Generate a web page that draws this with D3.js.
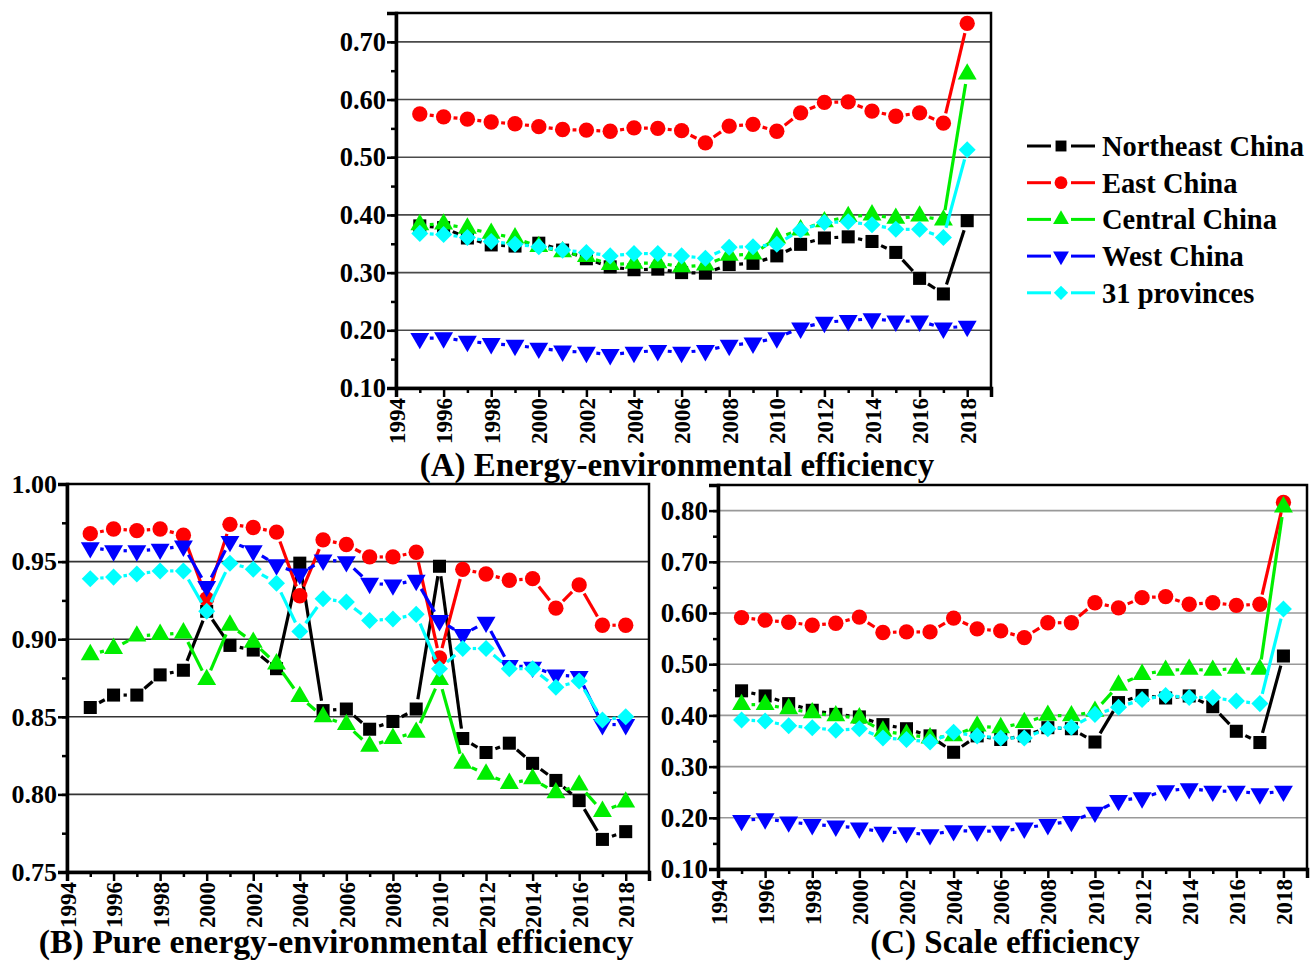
<!DOCTYPE html>
<html>
<head>
<meta charset="utf-8">
<script src="https://cdn.jsdelivr.net/npm/d3@7"></script>
<style>
  body { margin: 0; background: #fff; }
  svg text { font-family: "Liberation Serif", "Times New Roman", serif; font-weight: bold; fill: #000; }
</style>
</head>
<body>
<svg id="chart" width="1316" height="961"></svg>
<script>
const years = d3.range(1995, 2019);
const regions = ["Northeast China", "East China", "Central China", "West China", "31 provinces"];
const colors = ["#000000", "#ff0000", "#00ee00", "#0000ff", "#00ffff"];

// (A) energy-environmental efficiency
const aNortheast = [0.381, 0.378, 0.360, 0.348, 0.346, 0.351, 0.339, 0.324, 0.310, 0.305, 0.306, 0.300, 0.299, 0.314, 0.316, 0.329, 0.349, 0.360, 0.362, 0.354, 0.335, 0.290, 0.263, 0.390];
const aEast = [0.575, 0.570, 0.566, 0.561, 0.558, 0.553, 0.548, 0.547, 0.545, 0.551, 0.550, 0.546, 0.525, 0.554, 0.557, 0.545, 0.577, 0.595, 0.596, 0.580, 0.571, 0.577, 0.559, 0.732];
const aCentral = [0.383, 0.384, 0.377, 0.368, 0.360, 0.345, 0.336, 0.328, 0.314, 0.316, 0.317, 0.310, 0.313, 0.330, 0.332, 0.360, 0.374, 0.388, 0.397, 0.400, 0.394, 0.398, 0.391, 0.644];
const aWest = [0.186, 0.187, 0.181, 0.177, 0.174, 0.169, 0.164, 0.162, 0.158, 0.162, 0.165, 0.162, 0.165, 0.174, 0.178, 0.187, 0.204, 0.214, 0.217, 0.220, 0.216, 0.216, 0.204, 0.207];
const aAll = [0.368, 0.366, 0.361, 0.354, 0.349, 0.345, 0.339, 0.335, 0.329, 0.333, 0.333, 0.329, 0.325, 0.344, 0.345, 0.349, 0.374, 0.387, 0.388, 0.383, 0.375, 0.375, 0.361, 0.513];

// (B) pure energy-environmental efficiency
const bNortheast = [0.856, 0.864, 0.864, 0.877, 0.880, 0.918, 0.896, 0.893, 0.881, 0.949, 0.854, 0.855, 0.842, 0.847, 0.855, 0.947, 0.836, 0.827, 0.833, 0.820, 0.809, 0.796, 0.771, 0.776];
const bEast = [0.968, 0.971, 0.970, 0.971, 0.967, 0.926, 0.974, 0.972, 0.969, 0.928, 0.964, 0.961, 0.953, 0.953, 0.956, 0.888, 0.945, 0.942, 0.938, 0.939, 0.920, 0.935, 0.909, 0.909];
const bCentral = [0.890, 0.894, 0.902, 0.903, 0.904, 0.874, 0.909, 0.898, 0.884, 0.863, 0.850, 0.845, 0.831, 0.836, 0.840, 0.874, 0.820, 0.813, 0.807, 0.810, 0.801, 0.806, 0.789, 0.795];
const bWest = [0.959, 0.957, 0.957, 0.958, 0.960, 0.934, 0.963, 0.957, 0.948, 0.942, 0.951, 0.950, 0.936, 0.935, 0.938, 0.912, 0.903, 0.911, 0.883, 0.882, 0.877, 0.876, 0.845, 0.845];
const bAll = [0.939, 0.940, 0.942, 0.944, 0.944, 0.918, 0.949, 0.945, 0.936, 0.905, 0.926, 0.924, 0.912, 0.913, 0.916, 0.881, 0.894, 0.894, 0.881, 0.881, 0.869, 0.873, 0.848, 0.850];

// (C) scale efficiency
const cNortheast = [0.448, 0.438, 0.423, 0.410, 0.402, 0.397, 0.382, 0.374, 0.360, 0.328, 0.360, 0.353, 0.360, 0.376, 0.374, 0.348, 0.425, 0.439, 0.434, 0.438, 0.417, 0.369, 0.347, 0.516];
const cEast = [0.591, 0.586, 0.582, 0.576, 0.580, 0.592, 0.562, 0.563, 0.563, 0.590, 0.569, 0.565, 0.552, 0.581, 0.581, 0.620, 0.610, 0.630, 0.632, 0.617, 0.620, 0.615, 0.617, 0.816];
const cCentral = [0.421, 0.421, 0.413, 0.405, 0.399, 0.395, 0.369, 0.363, 0.356, 0.360, 0.379, 0.376, 0.386, 0.400, 0.399, 0.408, 0.459, 0.480, 0.488, 0.490, 0.488, 0.492, 0.490, 0.807];
const cWest = [0.195, 0.198, 0.192, 0.187, 0.184, 0.180, 0.172, 0.171, 0.167, 0.175, 0.174, 0.174, 0.180, 0.187, 0.193, 0.211, 0.234, 0.239, 0.253, 0.257, 0.252, 0.252, 0.247, 0.252];
const cAll = [0.391, 0.389, 0.380, 0.376, 0.371, 0.374, 0.356, 0.353, 0.348, 0.367, 0.360, 0.356, 0.356, 0.374, 0.377, 0.402, 0.416, 0.431, 0.439, 0.435, 0.435, 0.428, 0.423, 0.608];

const yTicksA = [0.10, 0.20, 0.30, 0.40, 0.50, 0.60, 0.70];
const yTicksB = [0.75, 0.80, 0.85, 0.90, 0.95, 1.00];
const yTicksC = [0.10, 0.20, 0.30, 0.40, 0.50, 0.60, 0.70, 0.80];
const xTicks = d3.range(1994, 2020);

const titles = ["(A) Energy-environmental efficiency", "(B) Pure energy-environmental efficiency", "(C) Scale efficiency"];

const svg = d3.select("#chart");

const symbols = [
  d3.symbol().type(d3.symbolSquare).size(170),
  d3.symbol().type(d3.symbolCircle).size(185),
  d3.symbol().type(d3.symbolTriangle).size(155),
  d3.symbol().type(d3.symbolTriangle).size(155),
  d3.symbol().type(d3.symbolSquare).size(145),
];
const rotations = [0, 0, 0, 180, 45];

const panels = [
  { series: [aNortheast, aEast, aCentral, aWest, aAll], left: 396, right: 991, top: 13, bottom: 388,
    yDomain: [0.10, 0.75], yTicks: yTicksA, minorStep: 0.05, grid: "#4a4a4a", title: titles[0], tx: 677, ty: 476, tFont: 33, yFont: 26.5, xFont: 23 },
  { series: [bNortheast, bEast, bCentral, bWest, bAll], left: 67, right: 649, top: 484, bottom: 872,
    yDomain: [0.75, 1.00], yTicks: yTicksB, minorStep: 0.025, grid: "#333", title: titles[1], tx: 336, ty: 953, tFont: 33.8, yFont: 26, xFont: 23 },
  { series: [cNortheast, cEast, cCentral, cWest, cAll], left: 718, right: 1307, top: 485, bottom: 869,
    yDomain: [0.10, 0.85], yTicks: yTicksC, minorStep: 0.05, grid: "#999", title: titles[2], tx: 1005, ty: 953, tFont: 33, yFont: 27, xFont: 23 },
];

panels.forEach((p) => {
  const x = d3.scaleLinear().domain([1994, 2019]).range([p.left, p.right]);
  const y = d3.scaleLinear().domain(p.yDomain).range([p.bottom, p.top]);
  const g = svg.append("g");

  // gridlines
  g.selectAll(".grid")
    .data(p.yTicks.filter((d) => d > p.yDomain[0] + 1e-9 && d < p.yDomain[1] - 1e-9))
    .enter()
    .append("line")
    .attr("x1", p.left).attr("x2", p.right)
    .attr("y1", (d) => y(d)).attr("y2", (d) => y(d))
    .attr("stroke", p.grid).attr("stroke-width", 1.6);

  // frame
  g.append("rect")
    .attr("x", p.left).attr("y", p.top)
    .attr("width", p.right - p.left).attr("height", p.bottom - p.top)
    .attr("fill", "none").attr("stroke", "#000").attr("stroke-width", 2.5);

  // series, drawn as trimmed segments so each symbol has a small gap
  p.series.forEach((vals, si) => {
    const pts = vals.map((v, i) => [x(years[i]), y(v)]);
    const gap = 10;
    for (let i = 0; i < pts.length - 1; i++) {
      const [x1, y1] = pts[i];
      const [x2, y2] = pts[i + 1];
      const len = Math.hypot(x2 - x1, y2 - y1);
      if (len <= gap * 2) continue;
      const ux = (x2 - x1) / len, uy = (y2 - y1) / len;
      g.append("line")
        .attr("x1", x1 + ux * gap).attr("y1", y1 + uy * gap)
        .attr("x2", x2 - ux * gap).attr("y2", y2 - uy * gap)
        .attr("stroke", colors[si]).attr("stroke-width", 3.2);
    }
    g.selectAll(".m" + si)
      .data(pts)
      .enter()
      .append("path")
      .attr("d", symbols[si])
      .attr("transform", (d) => `translate(${d[0]},${d[1]}) rotate(${rotations[si]})`)
      .attr("fill", colors[si]);
  });

  // y axis: minor then major
  const minor = d3.range(p.yDomain[0], p.yDomain[1] + 1e-9, p.minorStep)
    .map((d) => +d.toFixed(3));
  g.append("g")
    .attr("transform", `translate(${p.left},0)`)
    .call(d3.axisLeft(y).tickValues(minor).tickSize(5).tickFormat(""))
    .call((s) => s.select(".domain").remove())
    .selectAll("line").attr("stroke-width", 2.5);
  const yAxis = g.append("g")
    .attr("transform", `translate(${p.left},0)`)
    .call(d3.axisLeft(y).tickValues(p.yTicks).tickSize(9).tickPadding(1).tickFormat(d3.format(".2f")));
  yAxis.select(".domain").attr("stroke-width", 3.5);
  yAxis.selectAll("line").attr("stroke-width", 2.5);
  yAxis.selectAll("text").style("font-size", p.yFont + "px");

  // x axis
  const xAxis = g.append("g")
    .attr("transform", `translate(0,${p.bottom})`)
    .call(d3.axisBottom(x).tickValues(xTicks).tickSize(9).tickFormat((d) => (d % 2 === 0 ? d : "")));
  xAxis.select(".domain").attr("stroke-width", 3.5);
  xAxis.selectAll(".tick line")
    .attr("y2", (d) => (d % 2 === 0 ? 9 : 5))
    .attr("stroke-width", 2.5);
  xAxis.selectAll("text")
    .style("font-size", p.xFont + "px")
    .attr("text-anchor", "end")
    .attr("transform", "rotate(-90)")
    .attr("x", -10).attr("y", 0).attr("dy", "0.35em");

  // panel caption
  svg.append("text")
    .attr("x", p.tx).attr("y", p.ty)
    .attr("text-anchor", "middle")
    .style("font-size", p.tFont + "px")
    .text(p.title);
});

// legend
const legend = svg.append("g").attr("transform", "translate(1027,146)");
regions.forEach((name, i) => {
  const row = legend.append("g").attr("transform", `translate(0,${i * 36.7})`);
  row.append("line").attr("x1", 0).attr("x2", 24).attr("stroke", colors[i]).attr("stroke-width", 3);
  row.append("line").attr("x1", 44).attr("x2", 68).attr("stroke", colors[i]).attr("stroke-width", 3);
  row.append("path")
    .attr("d", d3.symbol().type(symbols[i].type()).size(symbols[i].size()() * 0.7))
    .attr("transform", `translate(34,0) rotate(${rotations[i]})`)
    .attr("fill", colors[i]);
  row.append("text")
    .attr("x", 75).attr("y", 0).attr("dy", "0.35em")
    .style("font-size", "28.5px")
    .text(name);
});
</script>
</body>
</html>
